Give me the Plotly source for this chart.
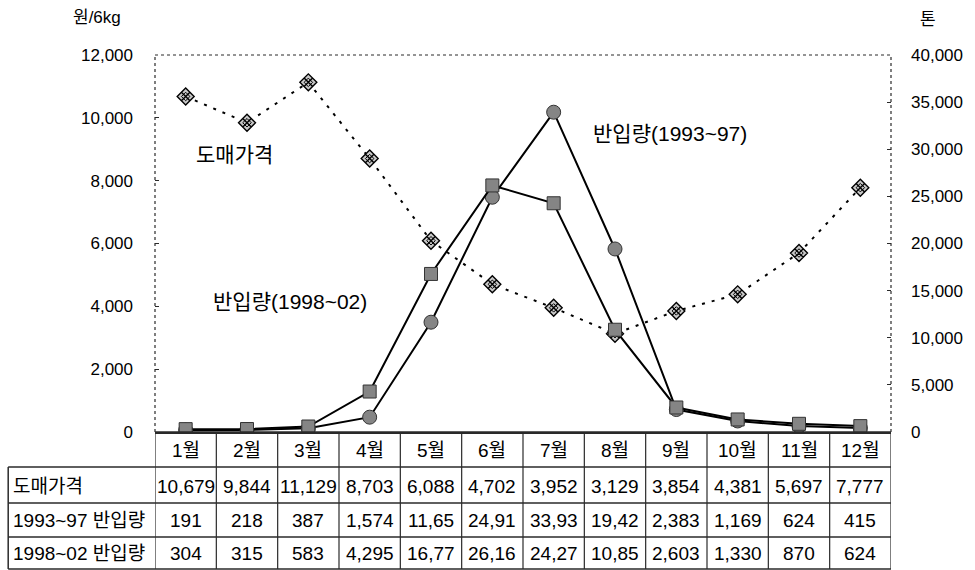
import plotly.graph_objects as go

# ---- data ----
months = ["1월", "2월", "3월", "4월", "5월", "6월", "7월", "8월", "9월", "10월", "11월", "12월"]
price = [10679, 9844, 11129, 8703, 6088, 4702, 3952, 3129, 3854, 4381, 5697, 7777]
arrivals_9397 = [191, 218, 387, 1574, 11650, 24910, 33930, 19420, 2383, 1169, 624, 415]
arrivals_9802 = [304, 315, 583, 4295, 16770, 26160, 24270, 10850, 2603, 1330, 870, 624]
row_labels = ["도매가격", "1993~97 반입량", "1998~02 반입량"]
left_ticks = [0, 2000, 4000, 6000, 8000, 10000, 12000]
right_ticks = [0, 5000, 10000, 15000, 20000, 25000, 30000, 35000, 40000]

FONT = "Liberation Sans, Arial, Noto Sans CJK KR"
W, H = 975, 570
L, R, T, B = 155, 897, 55, 432

def py(px):
    """pixel row -> paper y"""
    return (B - px) / (B - T)

def px_x(px):
    """pixel column -> paper x"""
    return (px - L) / (R - L)

def cell_text(v, clip):
    s = f"{v:,}"
    return s[:5] if clip else s  # arrival cells only hold five characters

x = list(range(len(months)))

fig = go.Figure()

# wholesale price (left axis)
fig.add_trace(go.Scatter(
    x=x, y=price, mode="lines", yaxis="y",
    line=dict(color="black", width=2, dash="3px,7px"), showlegend=False))
fig.add_trace(go.Scatter(
    x=x, y=price, mode="markers", yaxis="y",
    marker=dict(symbol="square-cross", angle=45, size=12, color="#c8c8c8",
                line=dict(color="black", width=1.4)), showlegend=False))
fig.add_trace(go.Scatter(
    x=x, y=price, mode="markers", yaxis="y",
    marker=dict(symbol="square-open", angle=45, size=6, color="black",
                line=dict(color="black", width=1)), showlegend=False))

# arrivals (right axis)
fig.add_trace(go.Scatter(
    x=x, y=arrivals_9397, mode="lines+markers", yaxis="y2",
    line=dict(color="black", width=2),
    marker=dict(symbol="circle", size=14, color="#858585",
                line=dict(color="#333", width=1)), showlegend=False))
fig.add_trace(go.Scatter(
    x=x, y=arrivals_9802, mode="lines+markers", yaxis="y2",
    line=dict(color="black", width=2),
    marker=dict(symbol="square", size=13, color="#858585",
                line=dict(color="#333", width=1)), showlegend=False))

shapes = []
line_c = "#2a2a2a"
# plot frame (dotted top and sides)
shapes.append(dict(type="line", xref="paper", yref="paper", x0=0, x1=1, y0=1, y1=1,
                   line=dict(color=line_c, width=1, dash="dot")))
shapes.append(dict(type="line", xref="paper", yref="paper", x0=0, x1=0, y0=0, y1=1,
                   line=dict(color=line_c, width=1.2, dash="dot")))
shapes.append(dict(type="line", xref="paper", yref="paper", x0=1, x1=1, y0=0, y1=1,
                   line=dict(color=line_c, width=1.2, dash="dot")))

# data table grid
row_px = [432, 467, 503, 537, 569]
for i, yp in enumerate(row_px):
    x0 = 0 if i == 0 else px_x(7)
    shapes.append(dict(type="line", xref="paper", yref="paper", x0=x0, x1=1,
                       y0=py(yp), y1=py(yp), line=dict(color=line_c, width=1.5)))
shapes.append(dict(type="line", xref="paper", yref="paper", x0=px_x(7), x1=px_x(7),
                   y0=py(467), y1=py(569), line=dict(color=line_c, width=1.5)))
for k in range(len(months) + 1):
    shapes.append(dict(type="line", xref="x", yref="paper", x0=k - 0.5, x1=k - 0.5,
                       y0=py(432), y1=py(569), line=dict(color=line_c, width=1.2)))

annotations = []
tfont = dict(family=FONT, size=19, color="black")
for i, m in enumerate(months):
    annotations.append(dict(x=i, y=py(450), xref="x", yref="paper", text=m,
                            xanchor="center", yanchor="middle",
                            showarrow=False, font=tfont))
rows = [price, arrivals_9397, arrivals_9802]
row_cy = [486, 520, 553]
for r, (lab, vals, cy) in enumerate(zip(row_labels, rows, row_cy)):
    annotations.append(dict(x=px_x(10), y=py(cy), xref="paper", yref="paper", text=lab,
                            xanchor="left", yanchor="middle", showarrow=False, font=tfont))
    for i, v in enumerate(vals):
        annotations.append(dict(x=i, y=py(cy), xref="x", yref="paper",
                                text=cell_text(v, r > 0),
                                xanchor="center", yanchor="middle",
                                showarrow=False, font=tfont))

# series labels and units
lfont = dict(family=FONT, size=21, color="black")
annotations += [
    dict(x=px_x(235), y=py(154), text="도매가격", font=lfont),
    dict(x=px_x(291), y=py(301), text="반입량(1998~02)", font=lfont),
    dict(x=px_x(674), y=py(133), text="반입량(1993~97)", font=lfont),
    dict(x=px_x(97), y=py(18), text="원/6kg", font=dict(family=FONT, size=17, color="black")),
    dict(x=px_x(934), y=py(20), text="톤", font=dict(family=FONT, size=17, color="black")),
]
for a in annotations[-5:]:
    a.update(xref="paper", yref="paper", xanchor="center", yanchor="middle", showarrow=False)

fig.update_layout(
    width=W, height=H,
    margin=dict(l=L, r=W - R, t=T, b=H - B),
    paper_bgcolor="white", plot_bgcolor="white",
    font=dict(family=FONT, size=16, color="black"),
    xaxis=dict(range=[-0.5, len(months) - 0.5], showticklabels=False, ticks="",
               showgrid=False, zeroline=False, showline=True, linecolor=line_c, linewidth=1.5),
    yaxis=dict(range=[0, 12000], tickvals=left_ticks,
               ticktext=[f"{v:,}" for v in left_ticks],
               ticks="inside", ticklen=4, tickcolor=line_c, showgrid=False, zeroline=False,
               showline=False, ticklabelstandoff=21, tickfont=dict(size=17)),
    yaxis2=dict(range=[0, 40000], overlaying="y", side="right", tickvals=right_ticks,
                ticktext=[f"{v:,}" for v in right_ticks],
                ticks="inside", ticklen=4, tickcolor=line_c, showgrid=False, zeroline=False,
                showline=False, ticklabelstandoff=19, tickfont=dict(size=17)),
    shapes=shapes, annotations=annotations,
)

fig.write_html("out.html")
